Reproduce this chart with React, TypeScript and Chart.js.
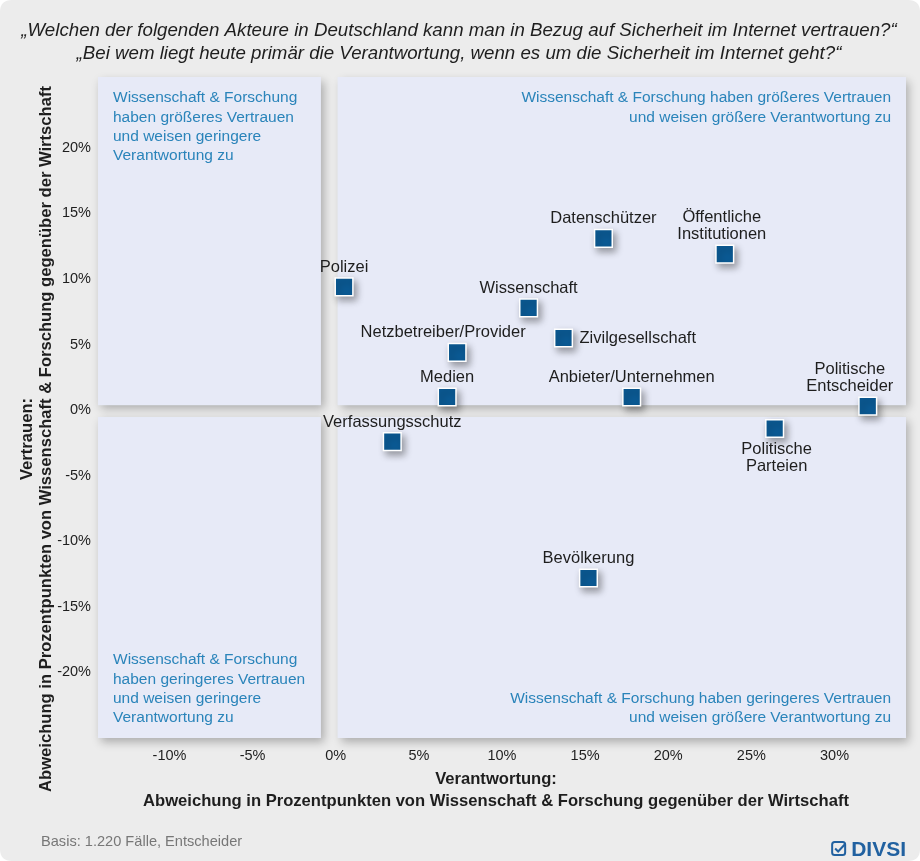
import React, { useEffect, useRef } from "react";
import { Chart, registerables } from "chart.js";

Chart.register(...registerables);

// ---------- data ----------
const actors: string[][] = [
  ["Polizei"],
  ["Datenschützer"],
  ["Öffentliche", "Institutionen"],
  ["Wissenschaft"],
  ["Zivilgesellschaft"],
  ["Netzbetreiber/Provider"],
  ["Medien"],
  ["Anbieter/Unternehmen"],
  ["Politische", "Entscheider"],
  ["Verfassungsschutz"],
  ["Politische", "Parteien"],
  ["Bevölkerung"],
];
// Verantwortung (x) in Prozentpunkten
const verantwortung = [0.5, 16.1, 23.4, 11.6, 13.7, 7.3, 6.7, 17.8, 32.0, 3.4, 26.4, 15.2];
// Vertrauen (y) in Prozentpunkten
const vertrauen = [9.4, 13.1, 11.9, 7.8, 5.5, 4.4, 1.0, 1.0, 0.3, -2.4, -1.4, -12.8];

const xTicks = [-10, -5, 0, 5, 10, 15, 20, 25, 30];
const yTicks = [-20, -15, -10, -5, 0, 5, 10, 15, 20];

const titleLines = [
  "„Welchen der folgenden Akteure in Deutschland kann man in Bezug auf Sicherheit im Internet vertrauen?“",
  "„Bei wem liegt heute primär die Verantwortung, wenn es um die Sicherheit im Internet geht?“",
];
const yTitleLines = [
  "Vertrauen:",
  "Abweichung in Prozentpunkten von Wissenschaft & Forschung gegenüber der Wirtschaft",
];
const xTitleLines = [
  "Verantwortung:",
  "Abweichung in Prozentpunkten von Wissenschaft & Forschung gegenüber der Wirtschaft",
];
const quadrantTL = ["Wissenschaft & Forschung", "haben größeres Vertrauen", "und weisen geringere", "Verantwortung zu"];
const quadrantTR = ["Wissenschaft & Forschung haben größeres Vertrauen", "und weisen größere Verantwortung zu"];
const quadrantBL = ["Wissenschaft & Forschung", "haben geringeres Vertrauen", "und weisen geringere", "Verantwortung zu"];
const quadrantBR = ["Wissenschaft & Forschung haben geringeres Vertrauen", "und weisen größere Verantwortung zu"];
const footerText = "Basis: 1.220 Fälle, Entscheider";
const logoText = "DIVSI";

// label placement style (not data)
const labelPlacement = ["above", "above", "above", "above", "right", "above", "above", "above", "above", "above", "below", "above"];
const labelShift = [0, 0, -3, 0, 0, -14, 0, 0, -18, 0, 2, 0];

const FONT = '"Liberation Sans", Arial, Helvetica, sans-serif';
const BG = "#ececec";
const PANEL = "#e7eaf7";
const QTEXT = "#2a84ba";
const POINT = "#0b5a94";
const TEXT = "#1e1e1e";

function roundRect(ctx: CanvasRenderingContext2D, x: number, y: number, w: number, h: number, r: number) {
  ctx.beginPath();
  ctx.moveTo(x + r, y);
  ctx.lineTo(x + w - r, y);
  ctx.quadraticCurveTo(x + w, y, x + w, y + r);
  ctx.lineTo(x + w, y + h - r);
  ctx.quadraticCurveTo(x + w, y + h, x + w - r, y + h);
  ctx.lineTo(x + r, y + h);
  ctx.quadraticCurveTo(x, y + h, x, y + h - r);
  ctx.lineTo(x, y + r);
  ctx.quadraticCurveTo(x, y, x + r, y);
  ctx.closePath();
}

const backgroundPlugin = {
  id: "quadBackground",
  beforeDraw(chart: any) {
    const { ctx, width, height, chartArea, scales } = chart;
    ctx.save();
    ctx.fillStyle = "#ffffff";
    ctx.fillRect(0, 0, width, height);
    roundRect(ctx, 0, 0, width, height, 12);
    ctx.fillStyle = BG;
    ctx.fill();

    const x0 = scales.x.getPixelForValue(0);
    const y0 = scales.y.getPixelForValue(0);
    const L = chartArea.left, R = chartArea.right, T = chartArea.top, B = chartArea.bottom;
    const panels = [
      [L, T, x0 - 15 - L, y0 - 5 - T],
      [x0 + 2, T, R - x0 - 2, y0 - 5 - T],
      [L, y0 + 7, x0 - 15 - L, B - y0 - 7],
      [x0 + 2, y0 + 7, R - x0 - 2, B - y0 - 7],
    ];
    ctx.shadowColor = "rgba(0,0,0,0.28)";
    ctx.shadowBlur = 9;
    ctx.shadowOffsetX = 3;
    ctx.shadowOffsetY = 4;
    ctx.fillStyle = PANEL;
    panels.forEach(([x, y, w, h]) => ctx.fillRect(x, y, w, h));
    ctx.shadowColor = "transparent";
    ctx.shadowBlur = 0;
    ctx.shadowOffsetX = 0;
    ctx.shadowOffsetY = 0;
    ctx.fillStyle = PANEL;
    panels.forEach(([x, y, w, h]) => ctx.fillRect(x, y, w, h));

    // quadrant texts
    ctx.fillStyle = QTEXT;
    ctx.font = `15.5px ${FONT}`;
    ctx.textBaseline = "middle";
    const lh = 19.3;
    ctx.textAlign = "left";
    quadrantTL.forEach((t, i) => ctx.fillText(t, L + 15, T + 21 + i * lh));
    quadrantBL.forEach((t, i) => ctx.fillText(t, L + 15, B - 20 - (quadrantBL.length - 1 - i) * lh));
    ctx.textAlign = "right";
    quadrantTR.forEach((t, i) => ctx.fillText(t, R - 15, T + 21 + i * lh));
    quadrantBR.forEach((t, i) => ctx.fillText(t, R - 15, B - 20 - (quadrantBR.length - 1 - i) * lh));
    ctx.restore();
  },
  beforeDatasetsDraw(chart: any) {
    const { ctx } = chart;
    ctx.save();
    ctx.shadowColor = "rgba(0,0,0,0.35)";
    ctx.shadowBlur = 7;
    ctx.shadowOffsetX = 3;
    ctx.shadowOffsetY = 4;
  },
  afterDatasetsDraw(chart: any) {
    const { ctx } = chart;
    ctx.restore();
    // point labels
    const meta = chart.getDatasetMeta(0);
    ctx.save();
    ctx.fillStyle = TEXT;
    ctx.font = `16.5px ${FONT}`;
    ctx.textBaseline = "middle";
    const lh = 17;
    meta.data.forEach((pt: any, i: number) => {
      const lines = actors[i];
      const place = labelPlacement[i];
      const px = pt.x + labelShift[i];
      const py = pt.y;
      if (place === "right") {
        ctx.textAlign = "left";
        ctx.fillText(lines[0], pt.x + 16, py);
      } else if (place === "below") {
        ctx.textAlign = "center";
        lines.forEach((t, k) => ctx.fillText(t, px, py + 21 + k * lh));
      } else {
        ctx.textAlign = "center";
        lines.forEach((t, k) => ctx.fillText(t, px, py - 19.5 - (lines.length - 1 - k) * lh));
      }
    });
    ctx.restore();
  },
  afterDraw(chart: any) {
    const { ctx, width, height } = chart;
    ctx.save();
    ctx.fillStyle = TEXT;
    ctx.textBaseline = "middle";
    ctx.textAlign = "center";
    ctx.font = `italic 18.7px ${FONT}`;
    titleLines.forEach((t, i) => ctx.fillText(t, 459, 31 + i * 22.5));

    // x title
    ctx.font = `bold 16.6px ${FONT}`;
    xTitleLines.forEach((t, i) => ctx.fillText(t, 496, 779 + i * 22));

    // y title
    ctx.save();
    ctx.translate(0, 439);
    ctx.rotate(-Math.PI / 2);
    yTitleLines.forEach((t, i) => ctx.fillText(t, 0, 27 + i * 19));
    ctx.restore();

    // footer
    ctx.textAlign = "left";
    ctx.fillStyle = "#777777";
    ctx.font = `14.6px ${FONT}`;
    ctx.fillText(footerText, 41, 842);

    // logo
    ctx.fillStyle = "#2161a0";
    ctx.font = `bold 21px ${FONT}`;
    ctx.textAlign = "right";
    ctx.fillText(logoText, width - 14, height - 11);
    const tw = ctx.measureText(logoText).width;
    const bx = width - 14 - tw - 19;
    const by = height - 19;
    ctx.strokeStyle = "#2161a0";
    ctx.lineWidth = 2;
    roundRect(ctx, bx, by, 13, 13, 2.5);
    ctx.stroke();
    ctx.beginPath();
    ctx.moveTo(bx + 3, by + 6.5);
    ctx.lineTo(bx + 6, by + 9.5);
    ctx.lineTo(bx + 13, by + 2);
    ctx.stroke();
    ctx.restore();
  },
};

export default function App() {
  const ref = useRef<HTMLCanvasElement | null>(null);

  useEffect(() => {
    document.body.style.margin = "0";
    const canvas = ref.current;
    if (!canvas) return;
    const chart = new Chart(canvas, {
      type: "scatter",
      data: {
        datasets: [
          {
            label: "Akteure",
            data: verantwortung.map((x, i) => ({ x, y: vertrauen[i] })),
            pointStyle: "rect",
            pointRadius: 12.5,
            pointHoverRadius: 12.5,
            backgroundColor: POINT,
            borderColor: "#ffffff",
            borderWidth: 1.5,
          },
        ],
      },
      options: {
        responsive: false,
        animation: false,
        events: [],
        layout: { padding: { left: 0, top: 77, right: 14, bottom: 0 } },
        plugins: {
          legend: { display: false },
          title: { display: false },
          tooltip: { enabled: false },
        },
        scales: {
          x: {
            type: "linear",
            min: -14.3,
            max: 34.3,
            grid: { display: false, drawTicks: false },
            border: { display: false },
            afterFit: (s: any) => {
              s.height = 123;
            },
            afterBuildTicks: (s: any) => {
              s.ticks = xTicks.map((v) => ({ value: v }));
            },
            ticks: {
              padding: 9,
              color: TEXT,
              font: { family: FONT, size: 14.5 },
              callback: (v: any) => `${v}%`,
            },
          },
          y: {
            type: "linear",
            min: -25,
            max: 25.4,
            grid: { display: false, drawTicks: false },
            border: { display: false },
            afterFit: (s: any) => {
              s.width = 98;
            },
            afterBuildTicks: (s: any) => {
              s.ticks = yTicks.map((v) => ({ value: v }));
            },
            ticks: {
              padding: 7,
              color: TEXT,
              font: { family: FONT, size: 14.5 },
              callback: (v: any) => `${v}%`,
            },
          },
        },
      },
      plugins: [backgroundPlugin],
    } as any);
    return () => chart.destroy();
  }, []);

  return (
    <div style={{ width: 920, height: 861 }}>
      <canvas ref={ref} width={920} height={861} style={{ display: "block" }} />
    </div>
  );
}
